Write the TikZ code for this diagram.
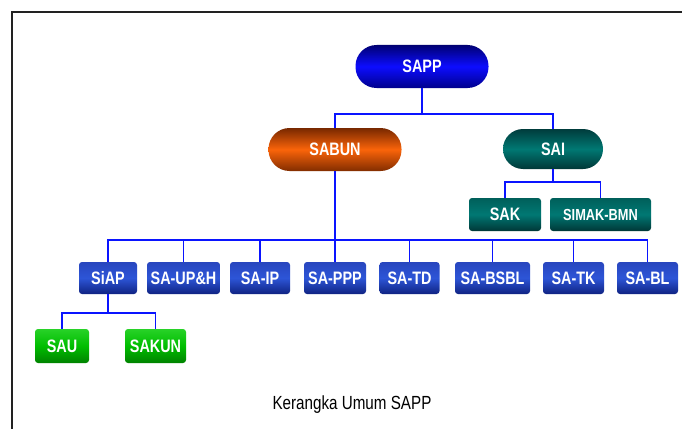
\documentclass[tikz,border=0pt]{standalone}
\usepackage{fontspec}
\setmainfont{Liberation Sans}
\newfontfamily\cond[FakeStretch=0.8]{Liberation Sans}
\definecolor{conn}{HTML}{0A14FF}
\definecolor{framec}{HTML}{222222}
\tikzset{
  conline/.style={draw=conn, line width=1.6pt},
  basebox/.style={inner sep=0pt, text=white, font=\cond\bfseries\fontsize{18}{20}\selectfont},
  pillblue/.style={basebox, rounded corners=21pt, minimum width=133pt, minimum height=43pt,
    top color=blue!45!black, bottom color=blue!55!black, middle color=blue!95!white},
  pillorange/.style={basebox, rounded corners=21pt, minimum width=133pt, minimum height=43pt,
    top color={rgb,255:red,120;green,40;blue,0}, bottom color={rgb,255:red,130;green,45;blue,0}, middle color={rgb,255:red,250;green,100;blue,10}},
  pillteal/.style={basebox, rounded corners=20pt, minimum width=100pt, minimum height=40pt,
    top color={rgb,255:red,0;green,60;blue,60}, bottom color={rgb,255:red,0;green,55;blue,55}, middle color={rgb,255:red,0;green,120;blue,115}},
  tealbox/.style={basebox, rounded corners=3pt, minimum height=33pt,
    top color={rgb,255:red,0;green,95;blue,90}, bottom color={rgb,255:red,0;green,55;blue,55}, middle color={rgb,255:red,0;green,120;blue,115}},
  bluebox/.style={basebox, rounded corners=3pt, minimum height=32pt,
    top color={rgb,255:red,40;green,70;blue,190}, bottom color={rgb,255:red,15;green,35;blue,130}, middle color={rgb,255:red,45;green,85;blue,215}},
  greenbox/.style={basebox, rounded corners=3pt, minimum height=34pt,
    top color={rgb,255:red,40;green,210;blue,40}, bottom color={rgb,255:red,0;green,130;blue,0}, middle color={rgb,255:red,0;green,190;blue,0}},
  captionnode/.style={inner sep=0pt, text=black, font=\cond\fontsize{19}{21}\selectfont}
}
\begin{document}
\begin{tikzpicture}[x=1pt, y=-1pt]
\useasboundingbox (0,0) rectangle (682,428);
\fill[white] (0,0) rectangle (682,428);
% frame
\draw[framec, line width=2pt] (12,429) -- (12,12) -- (683,12);

% nodes
\node[pillblue] (sapp) at (422,66.5) {SAPP};
\node[pillorange] (sabun) at (335,149.5) {SABUN};
\node[pillteal] (sai) at (553,149) {SAI};
\node[tealbox, minimum width=72pt] (sak) at (505,214.5) {SAK};
\node[tealbox, minimum width=101pt, font=\cond\bfseries\fontsize{16}{18}\selectfont] (simak) at (600.5,214.5) {SIMAK-BMN};

\node[bluebox, minimum width=58pt] (siap) at (108,278) {SiAP};
\node[bluebox, minimum width=73pt] (saup) at (183.5,278) {SA-UP\&H};
\node[bluebox, minimum width=60pt] (saip) at (260,278) {SA-IP};
\node[bluebox, minimum width=62pt] (sappp) at (335,278) {SA-PPP};
\node[bluebox, minimum width=60pt] (satd) at (409.5,278) {SA-TD};
\node[bluebox, minimum width=75pt] (sabsbl) at (492.5,278) {SA-BSBL};
\node[bluebox, minimum width=61pt] (satk) at (573.5,278) {SA-TK};
\node[bluebox, minimum width=61pt] (sabl) at (647.5,278) {SA-BL};

\node[greenbox, minimum width=54pt] (sau) at (62,346) {SAU};
\node[greenbox, minimum width=61pt] (sakun) at (155.5,346) {SAKUN};

\node[captionnode] (cap) at (352,405) {Kerangka Umum SAPP};

% connectors
\coordinate (j1) at (422,114);
\draw[conline] (sapp.south) -- (j1);
\draw[conline] (j1) -| (sabun.north);
\draw[conline] (j1) -| (sai.north);

\coordinate (j2) at (553,182);
\draw[conline] (sai.south) -- (j2);
\draw[conline] (j2) -| (sak.north);
\draw[conline] (j2) -| (simak.north);

\coordinate (j3) at (335,240);
\draw[conline] (sabun.south) -- (j3);
\foreach \n in {siap,saup,saip,sappp,satd,sabsbl,satk,sabl}{
  \draw[conline] (j3) -| (\n.north);
}

\coordinate (j4) at (108,313);
\draw[conline] (siap.south) -- (j4);
\draw[conline] (j4) -| (sau.north);
\draw[conline] (j4) -| (sakun.north);
\end{tikzpicture}
\end{document}
